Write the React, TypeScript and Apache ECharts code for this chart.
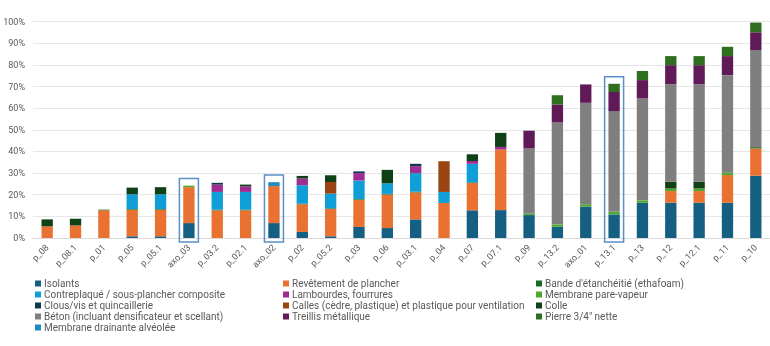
import React, { useEffect, useRef } from "react";
import * as echarts from "echarts";

const categories = ["p_08", "p_08.1", "p_01", "p_05", "p_05.1", "axo_03", "p_03.2", "p_02.1", "axo_02", "p_02", "p_05.2", "p_03", "p_06", "p_03.1", "p_04", "p_07", "p_07.1", "p_09", "p_13.2", "axo_01", "p_13.1", "p_13", "p_12", "p_12.1", "p_11", "p_10"];

const isolants = [0, 0, 0, 0.8, 0.8, 6.9, 0, 0, 6.9, 2.8, 0.8, 5.1, 4.6, 8.6, 0, 12.8, 12.9, 10.6, 5.2, 14.5, 10.9, 16.3, 16.3, 16.3, 16.3, 28.8];
const revetement = [5.4, 5.8, 12.8, 12.3, 12.3, 16.6, 12.8, 12.8, 17.1, 12.8, 12.6, 12.6, 15.5, 12.5, 16.2, 12.6, 28.0, 0, 0, 0, 0, 0, 5.4, 5.4, 12.8, 12.6];
const bande = [0, 0, 0.3, 0.3, 0.3, 0, 0.3, 0.3, 0, 0.3, 0.3, 0.3, 0.3, 0.3, 0, 0.3, 0, 0, 0, 0, 0, 0, 0, 0, 0, 0.6];
const contreplaque = [0, 0, 0, 6.8, 6.8, 0, 8.2, 8.2, 0, 8.5, 6.8, 8.6, 4.9, 8.6, 5.1, 8.6, 0, 0, 0, 0, 0, 0, 0, 0, 0, 0];
const lambourdes = [0, 0, 0, 0, 0, 0, 3.4, 2.6, 0, 3.1, 0, 3.4, 0, 3.2, 0, 1.3, 1.2, 0, 0, 0, 0, 0, 0, 0, 0, 0];
const membranePV = [0, 0, 0, 0, 0, 0.7, 0, 0, 0, 0, 0, 0, 0, 0, 0, 0, 0, 0.8, 1.1, 1.1, 1.2, 1.1, 1.2, 1.2, 1.1, 0];
const clous = [0, 0, 0, 0, 0, 0, 0.8, 0, 0, 0, 0, 0.8, 0, 1.1, 0, 0, 0, 0, 0, 0, 0, 0, 0, 0, 0, 0];
const calles = [0, 0, 0, 0, 0, 0, 0, 0, 0, 0, 5.4, 0, 0, 0, 14.2, 0, 0, 0, 0, 0, 0, 0, 0, 0, 0, 0];
const colle = [3.2, 3.1, 0, 3.1, 3.3, 0, 0, 0.8, 0, 1.2, 3.1, 0, 6.2, 0, 0, 3.1, 6.5, 0, 0, 0, 0, 0, 3.1, 3.1, 0, 0];
const beton = [0, 0, 0, 0, 0, 0, 0, 0, 0, 0, 0, 0, 0, 0, 0, 0, 0, 30.0, 47.1, 46.9, 46.6, 47.1, 45.1, 45.1, 45.1, 44.9];
const treillis = [0, 0, 0, 0, 0, 0, 0, 0, 0, 0, 0, 0, 0, 0, 0, 0, 0, 8.2, 8.3, 8.5, 8.8, 8.5, 8.8, 8.8, 8.8, 8.2];
const pierre = [0, 0, 0, 0, 0, 0, 0, 0, 0, 0, 0, 0, 0, 0, 0, 0, 0, 0, 4.3, 0, 3.8, 4.2, 4.2, 4.2, 4.3, 4.5];
const membraneDrainante = [0, 0, 0, 0, 0, 0, 0, 0, 1.8, 0, 0, 0, 0, 0, 0, 0, 0, 0, 0, 0, 0, 0, 0, 0, 0, 0];

const highlighted = ["axo_03", "axo_02", "p_13.1"];

const seriesDefs = [
  { name: "Isolants", data: isolants, color: "#156082" },
  { name: "Revêtement de plancher", data: revetement, color: "#E97132" },
  { name: "Bande d'étanchéitié (ethafoam)", data: bande, color: "#196B24" },
  { name: "Contreplaqué / sous-plancher composite", data: contreplaque, color: "#0F9ED5" },
  { name: "Lambourdes, fourrures", data: lambourdes, color: "#A02B93" },
  { name: "Membrane pare-vapeur", data: membranePV, color: "#4EA72E" },
  { name: "Clous/vis et quincaillerie", data: clous, color: "#0D3A4E" },
  { name: "Calles (cèdre, plastique) et plastique pour ventilation", data: calles, color: "#9A4413" },
  { name: "Colle", data: colle, color: "#0F4016" },
  { name: "Béton (incluant densificateur et scellant)", data: beton, color: "#7F7F7F" },
  { name: "Treillis métallique", data: treillis, color: "#601A58" },
  { name: "Pierre 3/4\" nette", data: pierre, color: "#2F6E1E" },
  { name: "Membrane drainante alvéolée", data: membraneDrainante, color: "#1F8CBE" },
];

const legendCol1 = [0, 3, 6, 9, 12].map((i) => seriesDefs[i].name);
const legendCol2 = [1, 4, 7, 10].map((i) => seriesDefs[i].name);
const legendCol3 = [2, 5, 8, 11].map((i) => seriesDefs[i].name);

const TXT = "#595959";
const FONT = "Roboto";

export default function App() {
  const ref = useRef<HTMLDivElement>(null);
  useEffect(() => {
    if (!ref.current) return;
    const chart = echarts.init(ref.current, undefined, { renderer: "svg" });
    const legendBase = {
      orient: "vertical" as const,
      top: 278,
      itemWidth: 6,
      itemHeight: 6,
      itemGap: 0,
      icon: "rect",
      textStyle: { color: TXT, fontSize: 10, fontFamily: FONT, lineHeight: 11, padding: [0, 0, 0, -2] },
      padding: 0,
    };
    chart.setOption({
      animation: false,
      textStyle: { fontFamily: FONT },
      legend: [
        { ...legendBase, left: 35, data: legendCol1 },
        { ...legendBase, left: 283, data: legendCol2 },
        { ...legendBase, left: 536, data: legendCol3 },
      ],
      grid: { left: 33, right: 0, top: 21.7, bottom: 108, containLabel: false },
      xAxis: {
        type: "category",
        data: categories,
        axisLine: { lineStyle: { color: "#D9D9D9" } },
        axisTick: { show: false },
        axisLabel: { rotate: 45, fontSize: 9, color: TXT, margin: 8, interval: 0, fontFamily: FONT },
      },
      yAxis: {
        type: "value",
        min: 0,
        max: 100,
        interval: 10,
        axisLabel: { formatter: "{value}%", fontSize: 9, color: TXT, margin: 8, fontFamily: FONT },
        splitLine: { lineStyle: { color: "#E6E6E6" } },
        axisLine: { show: false },
        axisTick: { show: false },
      },
      series: seriesDefs.map((s) => ({
        name: s.name,
        type: "bar",
        stack: "total",
        barWidth: "40%",
        itemStyle: { color: s.color },
        data: s.data,
      })),
    });

    const boxes = highlighted.map((cat) => {
      const idx = categories.indexOf(cat);
      const total = seriesDefs.reduce((acc, s) => acc + s.data[idx], 0);
      const topPt = chart.convertToPixel({ gridIndex: 0 }, [idx, total + 3.3]) as number[];
      const botPt = chart.convertToPixel({ gridIndex: 0 }, [idx, -1.9]) as number[];
      const w = 19;
      return {
        type: "rect",
        shape: { x: topPt[0] - w / 2, y: topPt[1], width: w, height: botPt[1] - topPt[1] },
        style: { fill: "none", stroke: "#5B8FC7", lineWidth: 1.5 },
        z: 100,
      };
    });
    chart.setOption({ graphic: boxes });

    return () => chart.dispose();
  }, []);
  return <div ref={ref} style={{ position: "fixed", left: 0, top: 0, width: 770, height: 346 }} />;
}
